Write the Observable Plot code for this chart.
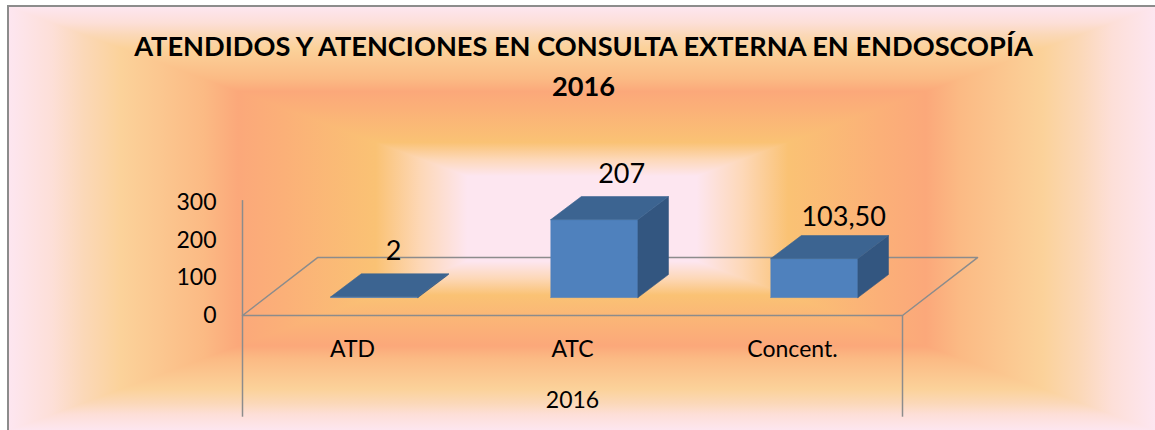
<!DOCTYPE html>
<html><head><meta charset="utf-8">
<script src="https://cdn.jsdelivr.net/npm/d3@7"></script>
<script src="https://cdn.jsdelivr.net/npm/@observablehq/plot@0.6"></script>
<style>
html,body{margin:0;padding:0;background:#fff;overflow:hidden}
#c{position:relative;width:1155px;height:430px;overflow:hidden;font-family:Lato,sans-serif}
#frame{position:absolute;left:7px;top:5px;width:1148px;height:425px;border-left:2px solid #8c8c8c;border-top:2px solid #8c8c8c;box-sizing:border-box}
.p{position:absolute;left:0;top:0;width:100%;height:100%}
h1{position:absolute;left:133px;width:901px;top:26px;margin:0;text-align:center;font:bold 27.2px/40px Lato,sans-serif;color:#000;white-space:nowrap}
#plot{position:absolute;left:0;top:0}
</style></head><body>
<div id="c"><div id="frame"></div>
<h1>ATENDIDOS Y ATENCIONES EN CONSULTA EXTERNA EN ENDOSCOPÍA<br>2016</h1>
<div id="plot"></div></div>
<script>
const categories = ["ATD", "ATC", "Concent."];
const values = [2, 207, 103.5];
const valueLabels = ["2", "207", "103,50"];
const yTicks = [0, 100, 200, 300];
const groupLabel = "2016";

// Word-style "rectangular path" gradient fill
const stops = [[0,"#fde6f0"],[7.5,"#fddfd8"],[13,"#fbd8b8"],[19.5,"#fbd29a"],[34,"#fbba84"],[40,"#fba87a"],[48,"#fbb078"],[64,"#fac274"],[72,"#fdd8b8"],[80,"#fde6f0"],[100,"#fde6f0"]];
const grad = dir => `linear-gradient(to ${dir},${stops.map(s => `${s[1]} ${s[0]}%`).join(",")})`;
const frame = document.getElementById("frame");
[["right","0 0 / 50% 100%","none"],["left","100% 0 / 50% 100%","none"],
 ["bottom","0 0 / 100% 50%","polygon(0 0,100% 0,50% 50%)"],
 ["top","0 100% / 100% 50%","polygon(0 100%,100% 100%,50% 50%)"]].forEach(([dir,pos,clip]) => {
  const d = document.createElement("div");
  d.className = "p";
  d.style.background = `${grad(dir)} ${pos} no-repeat`;
  d.style.clipPath = clip;
  frame.appendChild(d);
});

// oblique projection of the 3D chart, in data units
const depthX = 0.341, depthY = 153.8;      // floor depth
const barDepthX = 0.1386, barDepthY = 61;  // bar depth
const barHalf = 0.198, barShiftX = 0.0995, barShiftY = 47.7;
const blue = {front:"#4f81bd", top:"#3c6491", side:"#335680"};
const axisColor = "#8c8c8c";

const faces = [];
values.forEach((v, i) => {
  const x0 = i + 0.5 + barShiftX - barHalf, x1 = x0 + 2 * barHalf;
  const y0 = barShiftY, y1 = barShiftY + v;
  const add = (face, color, pts) => pts.forEach(([x, y]) => faces.push({id: categories[i] + face, color, x, y}));
  add("front", blue.front, [[x0,y0],[x1,y0],[x1,y1],[x0,y1],[x0,y0]]);
  add("side", blue.side, [[x1,y0],[x1+barDepthX,y0+barDepthY],[x1+barDepthX,y1+barDepthY],[x1,y1],[x1,y0]]);
  add("top", blue.top, [[x0,y1],[x1,y1],[x1+barDepthX,y1+barDepthY],[x0+barDepthX,y1+barDepthY],[x0,y1]]);
});
const n = categories.length;
const floor = [[0,0],[n,0],[n+depthX,depthY],[depthX,depthY],[0,0]].map(([x,y]) => ({x,y}));
const drop = -270;   // multi-level axis lines reach below the zero line
const labelNudge = [{dx:4,dy:0},{dx:12,dy:0},{dx:14,dy:4}];
const valueRows = values.map((v,i) => ({x:i+0.5+barShiftX+barDepthX/2, y:barShiftY+v+barDepthY, t:valueLabels[i], ...labelNudge[i]}));

const chart = Plot.plot({
  width: 1155, height: 430, margin: 0,
  style: {background:"transparent", fontFamily:"Lato,sans-serif", overflow:"visible"},
  x: {domain:[0,n], range:[242,902], axis:null},
  y: {domain:[0,300], range:[315,202], axis:null},
  marks: [
    Plot.line(floor, {x:"x", y:"y", stroke:axisColor, strokeWidth:1.5}),
    Plot.ruleX([0], {y1:drop, y2:305, stroke:axisColor, strokeWidth:1.5}),
    Plot.ruleX([n], {y1:drop, y2:0, stroke:axisColor, strokeWidth:1.5}),
    Plot.line(faces, {x:"x", y:"y", z:"id", fill:"color", stroke:"color", strokeWidth:0.6, curve:"linear"}),
    Plot.text(yTicks, {x:0, y:d=>d, text:d=>String(d), textAnchor:"end", dx:-26, fontSize:23, fill:"#000"}),
    Plot.text(categories, {x:(d,i)=>i+0.5, y:[-90,-90,-90], text:d=>d, fontSize:23, fill:"#000"}),
    Plot.text([groupLabel], {x:[n/2], y:[-225], text:d=>d, fontSize:23, fill:"#000"}),
    ...valueRows.map(r => Plot.text([r], {x:"x", y:"y", text:"t", dx:r.dx, dy:r.dy-22, fontSize:27, fill:"#000"}))
  ]
});
document.getElementById("plot").appendChild(chart);
</script></body></html>
